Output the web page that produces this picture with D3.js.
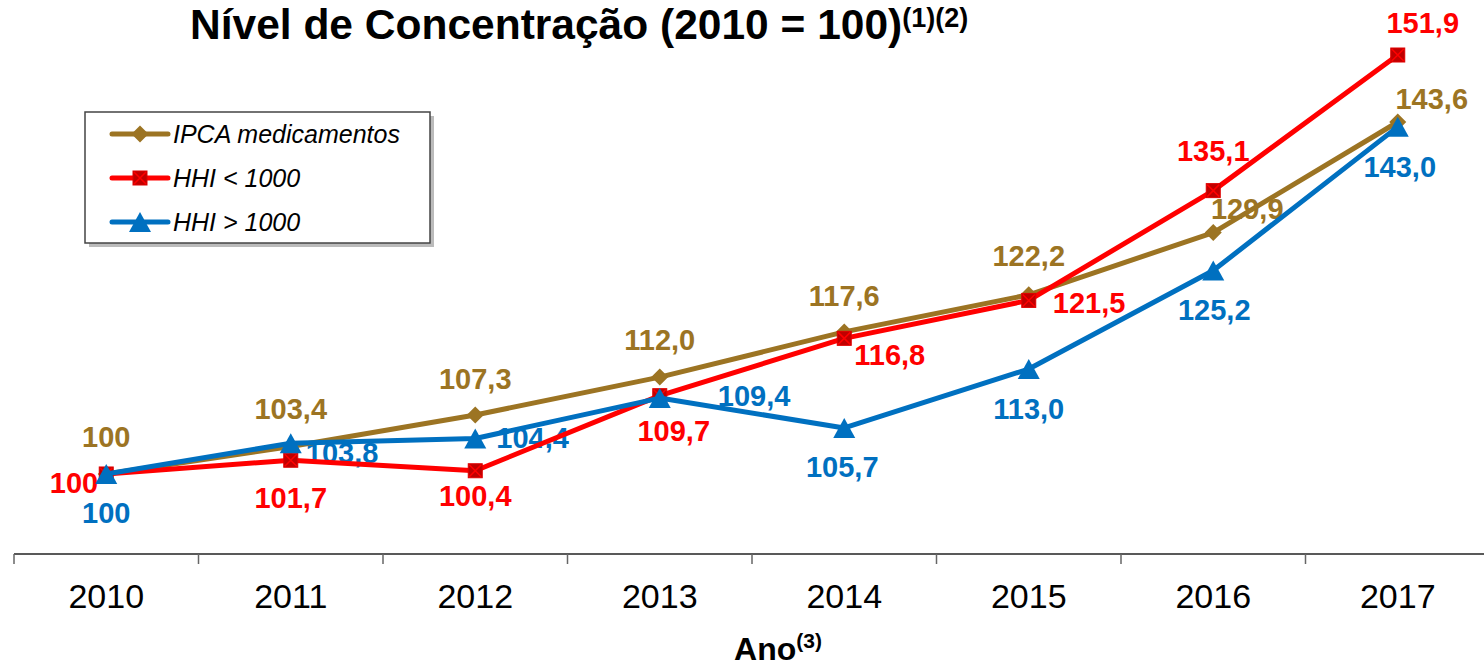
<!DOCTYPE html>
<html>
<head>
<meta charset="utf-8">
<script src="https://cdn.jsdelivr.net/npm/d3@7"></script>
<style>
  body { margin: 0; background: #fff; }
  svg { display: block; font-family: 'Liberation Sans', Arial, sans-serif; }
</style>
</head>
<body>
<svg id="chart" width="1484" height="666"></svg>
<script>
/* data */
const years = [2010, 2011, 2012, 2013, 2014, 2015, 2016, 2017]
const ipca = [100, 103.4, 107.3, 112.0, 117.6, 122.2, 129.9, 143.6]
const hhiLow = [100, 101.7, 100.4, 109.7, 116.8, 121.5, 135.1, 151.9]
const hhiHigh = [100, 103.8, 104.4, 109.4, 105.7, 113.0, 125.2, 143.0]
const seriesNames = ['IPCA medicamentos', 'HHI < 1000', 'HHI > 1000']

/* label placement per point: [dx, dy, anchor] relative to the marker */
const ipcaLabelPos = [[0, -37, 'middle'], [0, -38, 'middle'], [0, -37, 'middle'], [0, -38, 'middle'],
  [0, -36, 'middle'], [0, -39, 'middle'], [34, -24, 'middle'], [34, -24, 'middle']]
const hhiLowLabelPos = [[-8, 9, 'end'], [0, 37, 'middle'], [0, 25, 'middle'], [14, 35, 'middle'],
  [10, 16, 'start'], [24, 2, 'start'], [0, -40, 'middle'], [25, -33, 'middle']]
const hhiHighLabelPos = [[0, 39, 'middle'], [15, 9, 'start'], [21, -1, 'start'], [58, -3, 'start'],
  [-2, 39, 'middle'], [0, 39, 'middle'], [1, 39, 'middle'], [2, 40, 'middle']]

const gold = '#9C7423'
const red = '#FF0000'
const blue = '#0070C0'

const series = [
  { name: seriesNames[0], values: ipca, pos: ipcaLabelPos, color: gold, marker: 'diamond' },
  { name: seriesNames[1], values: hhiLow, pos: hhiLowLabelPos, color: red, marker: 'square' },
  { name: seriesNames[2], values: hhiHigh, pos: hhiHighLabelPos, color: blue, marker: 'triangle' }
]

const svg = d3.select('#chart')

/* scales */
const x = d3.scaleBand().domain(years).range([14, 1490])
const y = d3.scaleLinear().domain([90, 152]).range([554.7, 54.2])
const cx = (i) => x(years[i]) + x.bandwidth() / 2

const fmt = (v) => (v === 100 ? '100' : v.toFixed(1).replace('.', ','))

/* fn: draw a marker at (px, py) */
function drawMarker(g, type, px, py, color) {
  if (type === 'diamond') {
    const r = 8.5
    g.append('path')
      .attr('d', `M${px},${py - r}L${px + r},${py}L${px},${py + r}L${px - r},${py}Z`)
      .attr('fill', color)
  } else if (type === 'square') {
    const h = 7
    g.append('rect')
      .attr('x', px - h).attr('y', py - h)
      .attr('width', 2 * h).attr('height', 2 * h)
      .attr('fill', '#C00000')
      .attr('stroke', '#E00000')
      .attr('stroke-width', 1)
    g.append('path')
      .attr('d', `M${px - h + 1},${py - h + 1}L${px + h - 1},${py + h - 1}M${px + h - 1},${py - h + 1}L${px - h + 1},${py + h - 1}`)
      .attr('stroke', red)
      .attr('stroke-width', 1.5)
  } else {
    const w = 11, hh = 10
    g.append('path')
      .attr('d', `M${px},${py - hh}L${px + w},${py + hh}L${px - w},${py + hh}Z`)
      .attr('fill', color)
  }
}

/* x axis */
const axisY = 554
svg.append('line')
  .attr('x1', 14).attr('x2', 1484)
  .attr('y1', axisY).attr('y2', axisY)
  .attr('stroke', '#222').attr('stroke-width', 1.5)

svg.append('g')
  .selectAll('line')
  .data(years.concat([null]))
  .join('line')
  .attr('x1', (d, i) => 14 + i * x.bandwidth())
  .attr('x2', (d, i) => 14 + i * x.bandwidth())
  .attr('y1', axisY).attr('y2', axisY + 10)
  .attr('stroke', '#666').attr('stroke-width', 1.5)

const xAxis = svg.append('g')
  .attr('transform', `translate(0,${axisY})`)
  .call(d3.axisBottom(x).tickSize(0).tickPadding(0))
xAxis.select('.domain').remove()
xAxis.selectAll('text')
  .attr('y', 54)
  .attr('dy', 0)
  .style('font-family', "'Liberation Sans', Arial, sans-serif")
  .style('font-size', '34px')
  .style('fill', '#000')

/* axis title */
const axTitle = svg.append('text')
  .attr('x', 778).attr('y', 660)
  .attr('text-anchor', 'middle')
  .style('font-size', '32px').style('font-weight', 'bold')
axTitle.append('tspan').text('Ano')
axTitle.append('tspan').attr('dy', -12).style('font-size', '21px').text('(3)')

/* chart title */
const title = svg.append('text')
  .attr('x', 190).attr('y', 39)
  .style('font-size', '42.5px').style('font-weight', 'bold')
title.append('tspan').text('Nível de Concentração (2010 = 100)')
title.append('tspan').attr('dy', -12).style('font-size', '27px').text('(1)(2)')

/* data labels (drawn first so lines sit above them) */
const labels = svg.append('g')
series.forEach(function (s) {
  labels.selectAll(null)
    .data(s.values)
    .join('text')
    .attr('x', (d, i) => cx(i) + s.pos[i][0])
    .attr('y', (d, i) => y(d) + s.pos[i][1] + 10.5)
    .attr('text-anchor', (d, i) => s.pos[i][2])
    .style('font-size', '29px').style('font-weight', 'bold')
    .style('fill', s.color)
    .text(fmt)
})

/* lines and markers */
const line = d3.line().x((d, i) => cx(i)).y((d) => y(d))
series.forEach(function (s) {
  const g = svg.append('g')
  g.append('path')
    .datum(s.values)
    .attr('d', line)
    .attr('fill', 'none')
    .attr('stroke', s.color)
    .attr('stroke-width', 5)
    .attr('stroke-linejoin', 'round')
  s.values.forEach((v, i) => drawMarker(g, s.marker, cx(i), y(v), s.color))
})

/* legend */
const lg = svg.append('g')
lg.append('rect')
  .attr('x', 89).attr('y', 116).attr('width', 345).attr('height', 131)
  .attr('fill', '#bbb')
lg.append('rect')
  .attr('x', 85).attr('y', 112).attr('width', 345).attr('height', 131)
  .attr('fill', '#fff').attr('stroke', '#444').attr('stroke-width', 1.5)

series.forEach(function (s, i) {
  const ry = 134 + i * 44
  lg.append('line')
    .attr('x1', 112).attr('x2', 168).attr('y1', ry).attr('y2', ry)
    .attr('stroke', s.color).attr('stroke-width', 5).attr('stroke-linecap', 'round')
  drawMarker(lg, s.marker, 140, ry, s.color)
  lg.append('text')
    .attr('x', 173).attr('y', ry + 9)
    .style('font-size', '25px').style('font-style', 'italic')
    .style('fill', '#000')
    .text(s.name)
})
</script>
</body>
</html>
